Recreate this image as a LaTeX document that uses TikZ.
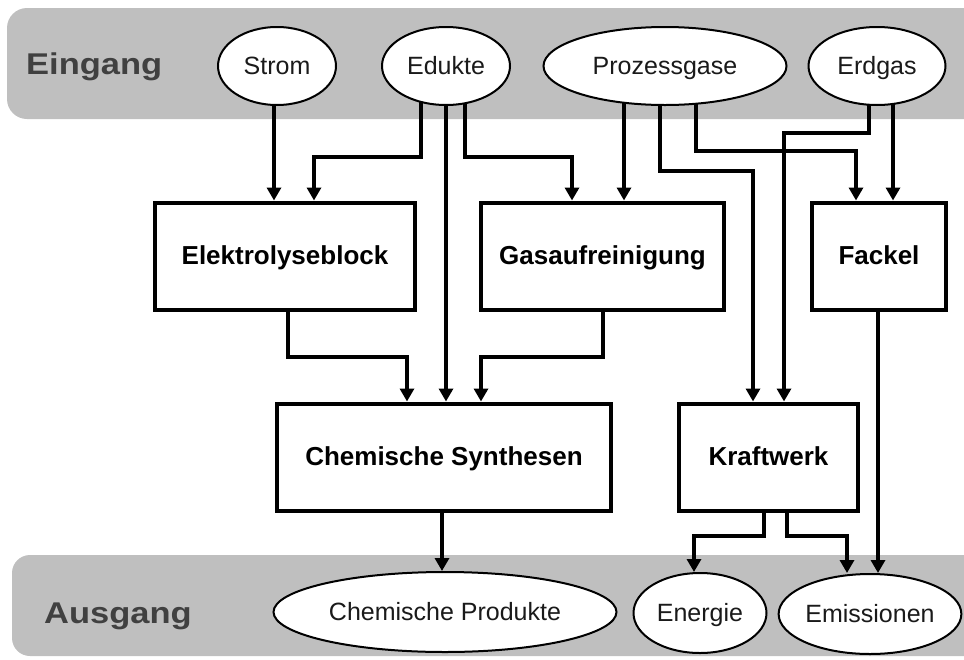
\documentclass[tikz,border=0pt]{standalone}
\usepackage{fontspec}
\usepackage{graphicx}
\setmainfont{Liberation Sans}
\usetikzlibrary{arrows.meta,shapes.geometric}
\pgfdeclarelayer{bg}
\pgfdeclarelayer{lines}
\pgfsetlayers{bg,lines,main}
\definecolor{band}{RGB}{191,191,191}
\definecolor{head}{RGB}{64,64,64}
\definecolor{txt}{RGB}{26,26,26}
\begin{document}
\begin{tikzpicture}[x=1pt,y=-1pt,
  box/.style={draw,line width=4pt,fill=white,inner sep=0pt,minimum height=107pt,
    text height=19pt,text depth=3pt,
    font=\fontsize{26}{30}\selectfont\bfseries,text=black},
  oval/.style={ellipse,draw,line width=2pt,fill=white,inner sep=0pt,
    text height=17pt,text depth=0pt,
    font=\fontsize{25}{30}\selectfont,text=txt},
  arr/.style={line width=4pt,-{Triangle[width=14pt,length=13pt]}},
  heading/.style={anchor=base west,inner sep=0pt,text=head,
    font=\fontsize{30}{36}\selectfont\bfseries}
]
\useasboundingbox (0,0) rectangle (964,659);

\begin{pgfonlayer}{bg}
  \begin{scope}
    \clip (0,0) rectangle (964,659);
    \fill[band,rounded corners=20pt] (7,8) rectangle (1000,119);
    \fill[band,rounded corners=18pt] (12,555) rectangle (1000,656);
  \end{scope}
\end{pgfonlayer}

% headings
\node[heading] (ein) at (26,74) {\scalebox{1.15}[1]{Eingang}};
\node[heading] (aus) at (44,623) {\scalebox{1.15}[1]{Ausgang}};

% inputs
\node[oval,minimum width=118pt,minimum height=78pt] (strom) at (277,66) {Strom};
\node[oval,minimum width=128pt,minimum height=78pt] (edukte) at (446,66) {Edukte};
\node[oval,minimum width=243pt,minimum height=78pt] (prozess) at (665,66) {Prozessgase};
\node[oval,minimum width=137pt,minimum height=78pt] (erdgas) at (877,66) {Erdgas};

% process boxes
\node[box,minimum width=260pt] (elektro) at (285,256) {Elektrolyseblock};
\node[box,minimum width=243pt] (gas) at (602.5,256) {Gasaufreinigung};
\node[box,minimum width=134pt] (fackel) at (879,256) {Fackel};
\node[box,minimum width=334pt] (chem) at (444,457) {Chemische Synthesen};
\node[box,minimum width=179pt] (kraft) at (768.5,457) {Kraftwerk};

% outputs
\node[oval,minimum width=343pt,minimum height=80pt] (prod) at (445,612) {Chemische Produkte};
\node[oval,minimum width=133pt,minimum height=80pt] (energie) at (700,613) {Energie};
\node[oval,minimum width=178pt,minimum height=80pt] (emis) at (870,614) {Emissionen};

\begin{pgfonlayer}{lines}
  \draw[arr] ([xshift=-3pt]strom.center) -- ([xshift=-11pt]elektro.north);
  \draw[arr] ([xshift=-25pt]edukte.center) -- ++(0,91) -| ([xshift=29pt]elektro.north);
  \draw[arr] (edukte.center) -- (edukte.center |- chem.north);
  \draw[arr] ([xshift=19pt]edukte.center) -- ++(0,91) -| ([xshift=-30.5pt]gas.north);
  \draw[arr] ([xshift=-41pt]prozess.center) -- ([xshift=-41pt]prozess.center |- gas.north);
  \draw[arr] ([xshift=-5pt]prozess.center) -- ++(0,105) -| ([xshift=-15.5pt]kraft.north);
  \draw[arr] ([xshift=31pt]prozess.center) -- ++(0,85) -| ([xshift=-23pt]fackel.north);
  \draw[arr] ([xshift=-8pt]erdgas.center) -- ++(0,67) -| ([xshift=15.5pt]kraft.north);
  \draw[arr] ([xshift=16pt]erdgas.center) -- ([xshift=16pt]erdgas.center |- fackel.north);
  \draw[arr] ([xshift=3pt]elektro.south) -- ++(0,45) -| ([xshift=-37pt]chem.north);
  \draw[arr] ([xshift=0.5pt]gas.south) -- ++(0,45) -| ([xshift=37pt]chem.north);
  \draw[arr] ([xshift=-2pt]chem.south) -- ([xshift=-2pt]chem.south |- prod.north);
  \draw[arr] ([xshift=-1pt]fackel.south) -- ([xshift=-1pt]fackel.south |- emis.north);
  \draw[arr] ([xshift=-4.5pt]kraft.south) -- ++(0,23) -| ([xshift=-6pt]energie.north);
  \draw[arr] ([xshift=18.5pt]kraft.south) -- ++(0,23) -| ([xshift=-23pt]emis.north);
\end{pgfonlayer}
\end{tikzpicture}
\end{document}
